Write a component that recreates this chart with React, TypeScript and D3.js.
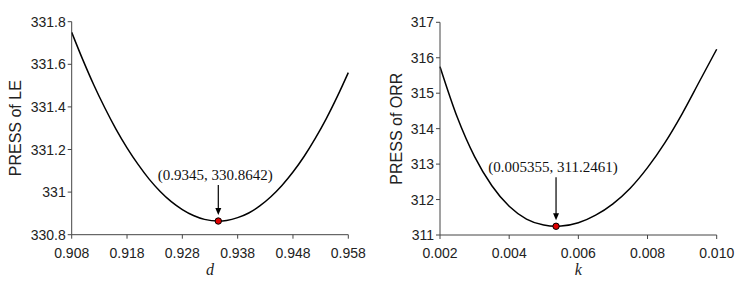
import React from "react";
import * as d3 from "d3";

// ---- Left panel: PRESS of LE vs d ----
const dValues = [0.908, 0.910, 0.912, 0.914, 0.916, 0.918, 0.920, 0.922, 0.924, 0.926, 0.928, 0.930, 0.932, 0.9345, 0.936, 0.938, 0.940, 0.942, 0.944, 0.946, 0.948, 0.950, 0.952, 0.954, 0.956, 0.958];
const pressLE = [331.750, 331.622, 331.503, 331.395, 331.296, 331.208, 331.130, 331.061, 331.003, 330.955, 330.918, 330.890, 330.872, 330.8642, 330.867, 330.880, 330.902, 330.935, 330.978, 331.031, 331.094, 331.167, 331.251, 331.344, 331.448, 331.561];
const dTicks = [0.908, 0.918, 0.928, 0.938, 0.948, 0.958];
const leTicks = [330.8, 331, 331.2, 331.4, 331.6, 331.8];
const leMin = { x: 0.9345, y: 330.8642, label: "(0.9345, 330.8642)" };

// ---- Right panel: PRESS of ORR vs k ----
const kValues = [0.0020, 0.0025, 0.0030, 0.0035, 0.0040, 0.0045, 0.0050, 0.005355, 0.0055, 0.0060, 0.0065, 0.0070, 0.0075, 0.0080, 0.0085, 0.0090, 0.0095, 0.0100];
const pressORR = [315.75, 314.32, 313.21, 312.39, 311.81, 311.45, 311.28, 311.2461, 311.251, 311.345, 311.56, 311.88, 312.32, 312.90, 313.60, 314.42, 315.33, 316.24];
const kTicks = [0.002, 0.004, 0.006, 0.008, 0.010];
const kTickLabels = ["0.002", "0.004", "0.006", "0.008", "0.010"];
const orrTicks = [311, 312, 313, 314, 315, 316, 317];
const orrMin = { x: 0.005355, y: 311.2461, label: "(0.005355, 311.2461)" };

const AXIS = "#444";
const SANS = "'Liberation Sans', Arial, sans-serif";
const SERIF = "'Liberation Serif', 'Times New Roman', serif";

type PanelProps = {
  xs: number[];
  ys: number[];
  xDomain: [number, number];
  yDomain: [number, number];
  xTicks: number[];
  xTickLabels: string[];
  yTicks: number[];
  yTickLabels: string[];
  left: number;
  right: number;
  top: number;
  bottom: number;
  xLabel: string;
  yLabel: string;
  yLabelX: number;
  minPt: { x: number; y: number; label: string };
  annGap: number;
};

function Panel(p: PanelProps) {
  const x = d3.scaleLinear().domain(p.xDomain).range([p.left, p.right]);
  const y = d3.scaleLinear().domain(p.yDomain).range([p.bottom, p.top]);
  const pts = p.xs.map((v, i) => [v, p.ys[i]] as [number, number]);
  const line = d3
    .line<[number, number]>()
    .x((d) => x(d[0]))
    .y((d) => y(d[1]))
    .curve(d3.curveMonotoneX);
  const mx = x(p.minPt.x);
  const my = y(p.minPt.y);
  const textBase = my - p.annGap;
  const arrowStart = textBase + 5;
  const arrowTip = my - 6;
  const headLen = 7;
  const headHalf = 3;
  return (
    <g>
      <path d={line(pts) || ""} fill="none" stroke="#000" strokeWidth={1.5} />
      {/* y axis */}
      <line x1={p.left} x2={p.left} y1={p.top} y2={p.bottom} stroke={AXIS} strokeWidth={1} />
      {p.yTicks.map((t, i) => (
        <g key={"y" + i}>
          <line x1={p.left - 4} x2={p.left} y1={y(t)} y2={y(t)} stroke={AXIS} strokeWidth={1} />
          <text x={p.left - 6} y={y(t) + 5} textAnchor="end" fontFamily={SANS} fontSize={14} fill="#222">
            {p.yTickLabels[i]}
          </text>
        </g>
      ))}
      {/* x axis */}
      <line x1={p.left} x2={p.right} y1={p.bottom} y2={p.bottom} stroke={AXIS} strokeWidth={1} />
      {p.xTicks.map((t, i) => (
        <g key={"x" + i}>
          <line x1={x(t)} x2={x(t)} y1={p.bottom} y2={p.bottom + 4} stroke={AXIS} strokeWidth={1} />
          <text x={x(t)} y={257.5} textAnchor="middle" fontFamily={SANS} fontSize={14} fill="#222">
            {p.xTickLabels[i]}
          </text>
        </g>
      ))}
      <text x={(p.left + p.right) / 2} y={275} textAnchor="middle" fontFamily={SERIF} fontStyle="italic" fontSize={16} fill="#222">
        {p.xLabel}
      </text>
      <text
        transform={`translate(${p.yLabelX},${(p.top + p.bottom) / 2}) rotate(-90)`}
        textAnchor="middle"
        fontFamily={SANS}
        fontSize={16}
        fill="#222"
      >
        {p.yLabel}
      </text>
      {/* annotation */}
      <text x={mx - 3} y={textBase} textAnchor="middle" fontFamily={SERIF} fontSize={15} fill="#111">
        {p.minPt.label}
      </text>
      <line x1={mx} x2={mx} y1={arrowStart} y2={arrowTip - headLen + 1} stroke="#000" strokeWidth={1.2} />
      <path
        d={`M${mx - headHalf},${arrowTip - headLen} L${mx + headHalf},${arrowTip - headLen} L${mx},${arrowTip} Z`}
        fill="#000"
      />
      <circle cx={mx} cy={my} r={3.2} fill="#e00000" stroke="#000" strokeWidth={1} />
    </g>
  );
}

export default function App() {
  return (
    <svg
      width={746}
      height={283}
      style={{ position: "absolute", left: 0, top: 0, background: "#fff" }}
    >
      <rect x={0} y={0} width={746} height={283} fill="#fff" />
      <Panel
        xs={dValues}
        ys={pressLE}
        xDomain={[0.908, 0.958]}
        yDomain={[330.8, 331.8]}
        xTicks={dTicks}
        xTickLabels={dTicks.map((t) => t.toFixed(3))}
        yTicks={leTicks}
        yTickLabels={leTicks.map((t) => String(t))}
        left={71.7}
        right={348.3}
        top={21.7}
        bottom={234.7}
        xLabel="d"
        yLabel="PRESS of LE"
        yLabelX={21}
        minPt={leMin}
        annGap={41}
      />
      <Panel
        xs={kValues}
        ys={pressORR}
        xDomain={[0.002, 0.010]}
        yDomain={[311, 317]}
        xTicks={kTicks}
        xTickLabels={kTickLabels}
        yTicks={orrTicks}
        yTickLabels={orrTicks.map((t) => String(t))}
        left={440}
        right={716.7}
        top={22.3}
        bottom={235}
        xLabel="k"
        yLabel="PRESS of ORR"
        yLabelX={402}
        minPt={orrMin}
        annGap={54}
      />
    </svg>
  );
}
